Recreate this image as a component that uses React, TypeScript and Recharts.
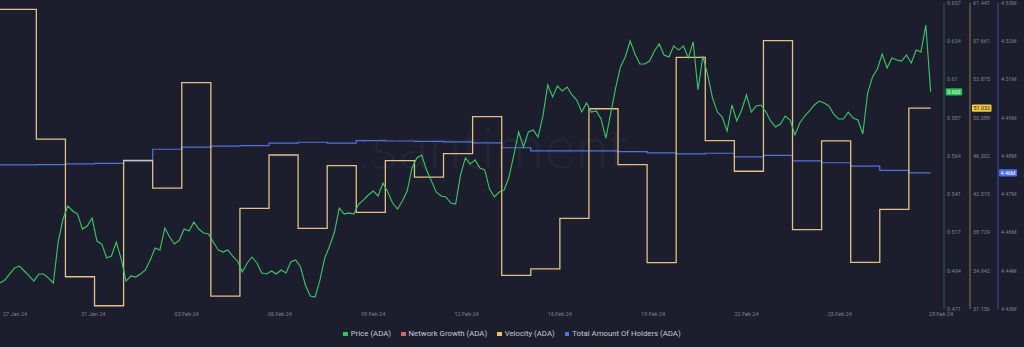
import { ComposedChart, Line, XAxis, YAxis, ReferenceLine } from 'recharts'

// hourly-ish price sampled every 4h, velocity + holders are daily steps
const STEP_HOURS = 4
const FIRST_DAY_END = 30
const END_HOURS = 768

const priceAda = [
  0.4868, 0.4886, 0.4923, 0.4959, 0.4971, 0.4941, 0.4911, 0.488, 0.4923, 0.4923,
  0.4898, 0.4868, 0.5117, 0.5257, 0.5336, 0.5306, 0.5287, 0.5196, 0.5214, 0.5263,
  0.5123, 0.5105, 0.502, 0.5032, 0.5117, 0.5014, 0.488, 0.4911, 0.4904, 0.4923,
  0.4947, 0.5008, 0.5081, 0.5069, 0.5202, 0.5148, 0.5105, 0.5129, 0.5196, 0.5184,
  0.5239, 0.5196, 0.5172, 0.5166, 0.5117, 0.5069, 0.5056, 0.5069, 0.5032, 0.5002,
  0.4935, 0.499, 0.5026, 0.499, 0.4929, 0.4923, 0.4941, 0.4923, 0.4947, 0.4929,
  0.4996, 0.5008, 0.4965, 0.4856, 0.4789, 0.4783, 0.4886, 0.502, 0.5093, 0.5178,
  0.5324, 0.5287, 0.5294, 0.5287, 0.5348, 0.5373, 0.5403, 0.5427, 0.5397, 0.5476,
  0.5421, 0.5354, 0.5318, 0.5366, 0.5427, 0.5567, 0.5628, 0.5646, 0.5555, 0.5488,
  0.5421, 0.5397, 0.5391, 0.5354, 0.5348, 0.5524, 0.5628, 0.5591, 0.5616, 0.5567,
  0.5555, 0.5439, 0.5391, 0.5421, 0.5433, 0.5512, 0.5646, 0.5786, 0.5695, 0.5786,
  0.5798, 0.5755, 0.5883, 0.6072, 0.5999, 0.6065, 0.6035, 0.6059, 0.6011, 0.598,
  0.5907, 0.5962, 0.5907, 0.5914, 0.5865, 0.5749, 0.5901, 0.6053, 0.6181, 0.6242,
  0.6339, 0.626, 0.6199, 0.6199, 0.6217, 0.6278, 0.6321, 0.6254, 0.6242, 0.6309,
  0.6284, 0.6309, 0.6236, 0.6333, 0.6041, 0.6248, 0.6132, 0.5992, 0.5907, 0.5877,
  0.5792, 0.595, 0.5853, 0.592, 0.6011, 0.5907, 0.5944, 0.595, 0.5907, 0.5853,
  0.5816, 0.5834, 0.5883, 0.5859, 0.5768, 0.5841, 0.5883, 0.5914, 0.595, 0.5974,
  0.5962, 0.5944, 0.5895, 0.5865, 0.5865, 0.5907, 0.5871, 0.5859, 0.5774, 0.6023,
  0.612, 0.6169, 0.626, 0.6175, 0.6236, 0.6224, 0.6217, 0.6254, 0.6205, 0.6284,
  0.6272, 0.6436, 0.603,
]

const velocityAda = [
  60.82, 47.98, 34.35, 31.48, 45.87, 43.13, 53.56, 32.44, 41.12, 46.4,
  39.14, 45.34, 40.73, 45.84, 44.22, 46.53, 50.19, 34.49, 35.12, 40.13,
  50.98, 45.44, 35.74, 56.07, 47.82, 44.79, 57.72, 39.01, 47.79, 35.78,
  41.02, 51.032,
]

const holdersAda = [
  4479100, 4479200, 4479400, 4479600, 4480300, 4484200, 4484900, 4485200, 4485400, 4486200,
  4486500, 4486200, 4487000, 4486900, 4486800, 4486600, 4486300, 4484700, 4483700, 4483700,
  4483700, 4483400, 4483000, 4482700, 4482900, 4481700, 4482200, 4480400, 4479800, 4478700,
  4477300, 4476500,
]

const dateLabels = [
  '27 Jan 24', '31 Jan 24', '03 Feb 24', '06 Feb 24', '09 Feb 24', '12 Feb 24',
  '16 Feb 24', '19 Feb 24', '22 Feb 24', '25 Feb 24', '28 Feb 24',
]
const DATE_TICK_HOURS = 77

const priceTickLabels = ['0.657', '0.634', '0.61', '0.587', '0.564', '0.541', '0.517', '0.494', '0.471']
const velocityTickLabels = ['61.447', '57.661', '53.875', '50.088', '46.302', '42.515', '38.729', '34.942', '31.156']
const holderTickLabels = ['4.53M', '4.52M', '4.51M', '4.49M', '4.48M', '4.47M', '4.46M', '4.44M', '4.43M']

const priceDomain: [number, number] = [0.471, 0.657]
const velocityDomain: [number, number] = [31.156, 61.447]
const holderDomain: [number, number] = [4432000, 4532000]

const priceLast = '0.603'
const velocityLast = '51.032'
const holdersLast = '4.46M'

const legendItems = [
  { name: 'Price (ADA)', color: '#2fc35a' },
  { name: 'Network Growth (ADA)', color: '#e0606e' },
  { name: 'Velocity (ADA)', color: '#f0c35a' },
  { name: 'Total Amount Of Holders (ADA)', color: '#5670e6' },
]

const BG = '#1c1e2e'
const TICK = '#7d808d'
const PRICE_COLOR = '#3cc768'
const VELOCITY_COLOR = '#e3c084'
const HOLDERS_COLOR = '#5571dc'

// recharts stacks same-side axes by id order, so ids are prefixed
const PRICE_AXIS = 'y1price'
const VELOCITY_AXIS = 'y2velocity'
const HOLDERS_AXIS = 'y3holders'

const dayStart = (k: number) => (k === 0 ? 0 : FIRST_DAY_END + 24 * (k - 1))

const priceData = priceAda.map((v, i) => ({ t: i * STEP_HOURS, v }))
const velocityData = [
  ...velocityAda.map((v, k) => ({ t: dayStart(k), v })),
  { t: END_HOURS, v: velocityAda[velocityAda.length - 1] },
]
const holdersData = [
  ...holdersAda.map((v, k) => ({ t: dayStart(k), v })),
  { t: END_HOURS, v: holdersAda[holdersAda.length - 1] },
]

function evenTicks(domain: [number, number], n: number) {
  const step = (domain[1] - domain[0]) / (n - 1)
  return Array.from({ length: n }, (_, i) => domain[1] - i * step)
}

function labelFor(domain: [number, number], labels: string[]) {
  const step = (domain[1] - domain[0]) / (labels.length - 1)
  return (value: number) => labels[Math.round((domain[1] - value) / step)] ?? ''
}

const DateTick = ({ x, y, payload }: any) => {
  const i = Math.round(payload.value / DATE_TICK_HOURS)
  const last = i === dateLabels.length - 1
  const anchor = i === 0 || last ? 'start' : 'middle'
  const dx = i === 0 ? 3 : last ? -4 : 0
  return (
    <text x={x + dx} y={y + 5} textAnchor={anchor} fontSize={5.5} fill={TICK}>
      {dateLabels[i]}
    </text>
  )
}

const badge = (text: string, bg: string, fg: string, offset: number, w: number) => (props: any) => {
  const vb = props.viewBox
  if (!vb) return null
  const x = vb.x + vb.width + offset
  const y = vb.y
  return (
    <g>
      <rect x={x} y={y - 3.6} width={w} height={7.2} rx={1} fill={bg} />
      <text x={x + w / 2} y={y} dy="0.36em" textAnchor="middle" fontSize={5.3} fill={fg}>
        {text}
      </text>
    </g>
  )
}

export default function App() {
  return (
    <div
      style={{
        position: 'fixed',
        left: 0,
        top: 0,
        width: 1024,
        height: 347,
        background: BG,
        fontFamily: 'Roboto, sans-serif',
        overflow: 'hidden',
      }}
    >
      <div
        style={{
          position: 'absolute',
          left: 358,
          top: 108,
          fontSize: 56,
          fontWeight: 300,
          color: 'rgba(255,255,255,0.035)',
          letterSpacing: 0.5,
          fontFamily: 'Open Sans, sans-serif',
        }}
      >
        :santiment
      </div>
      <ComposedChart
        width={1024}
        height={347}
        margin={{ top: 3, right: 0, bottom: 24, left: 0 }}
        style={{ position: 'absolute', left: 0, top: 0 }}
      >
        <XAxis
          type="number"
          dataKey="t"
          domain={[0, 779]}
          ticks={dateLabels.map((_, i) => i * DATE_TICK_HOURS)}
          interval={0}
          axisLine={false}
          tickLine={false}
          tickSize={0}
          height={14}
          tick={<DateTick />}
          allowDataOverflow
        />
        <YAxis
          yAxisId={PRICE_AXIS}
          orientation="right"
          domain={priceDomain}
          ticks={evenTicks(priceDomain, priceTickLabels.length)}
          tickFormatter={labelFor(priceDomain, priceTickLabels)}
          interval={0}
          width={26}
          tickSize={0}
          tickMargin={3}
          tickLine={false}
          axisLine={{ stroke: '#2a5e50' }}
          tick={{ fill: TICK, fontSize: 5.5 }}
          allowDataOverflow
        />
        <YAxis
          yAxisId={VELOCITY_AXIS}
          orientation="right"
          domain={velocityDomain}
          ticks={evenTicks(velocityDomain, velocityTickLabels.length)}
          tickFormatter={labelFor(velocityDomain, velocityTickLabels)}
          interval={0}
          width={28}
          tickSize={0}
          tickMargin={3}
          tickLine={false}
          axisLine={{ stroke: '#8c7752' }}
          tick={{ fill: TICK, fontSize: 5.5 }}
          allowDataOverflow
        />
        <YAxis
          yAxisId={HOLDERS_AXIS}
          orientation="right"
          domain={holderDomain}
          ticks={evenTicks(holderDomain, holderTickLabels.length)}
          tickFormatter={labelFor(holderDomain, holderTickLabels)}
          interval={0}
          width={26}
          tickSize={0}
          tickMargin={3}
          tickLine={false}
          axisLine={{ stroke: '#41509e' }}
          tick={{ fill: TICK, fontSize: 5.5 }}
          allowDataOverflow
        />
        <Line
          yAxisId={HOLDERS_AXIS}
          data={holdersData}
          dataKey="v"
          type="stepAfter"
          stroke={HOLDERS_COLOR}
          strokeWidth={1.2}
          dot={false}
          isAnimationActive={false}
        />
        <Line
          yAxisId={VELOCITY_AXIS}
          data={velocityData}
          dataKey="v"
          type="stepAfter"
          stroke={VELOCITY_COLOR}
          strokeWidth={1.3}
          dot={false}
          isAnimationActive={false}
        />
        <Line
          yAxisId={PRICE_AXIS}
          data={priceData}
          dataKey="v"
          type="linear"
          stroke={PRICE_COLOR}
          strokeWidth={1.1}
          dot={false}
          isAnimationActive={false}
        />
        <ReferenceLine
          yAxisId={PRICE_AXIS}
          y={Number(priceLast)}
          stroke="none"
          label={badge(priceLast, '#27b94e', '#eafff0', 1.7, 16.5)}
        />
        <ReferenceLine
          yAxisId={VELOCITY_AXIS}
          y={velocityAda[velocityAda.length - 1]}
          stroke="none"
          label={badge(velocityLast, '#f2c94c', '#2a2410', 28, 19.5)}
        />
        <ReferenceLine
          yAxisId={HOLDERS_AXIS}
          y={holdersAda[holdersAda.length - 1]}
          stroke="none"
          label={badge(holdersLast, '#4a6cf0', '#ffffff', 55, 18)}
        />
      </ComposedChart>
      <div
        style={{
          position: 'absolute',
          left: 0,
          top: 329,
          width: 1024,
          display: 'flex',
          justifyContent: 'center',
          gap: 10,
          fontSize: 7.8,
          color: '#c6c9d3',
          lineHeight: '10px',
        }}
      >
        {legendItems.map((it) => (
          <div key={it.name} style={{ display: 'flex', alignItems: 'center', gap: 3 }}>
            <span style={{ width: 4.5, height: 4.5, background: it.color, display: 'inline-block' }} />
            <span>{it.name}</span>
          </div>
        ))}
      </div>
    </div>
  )
}
